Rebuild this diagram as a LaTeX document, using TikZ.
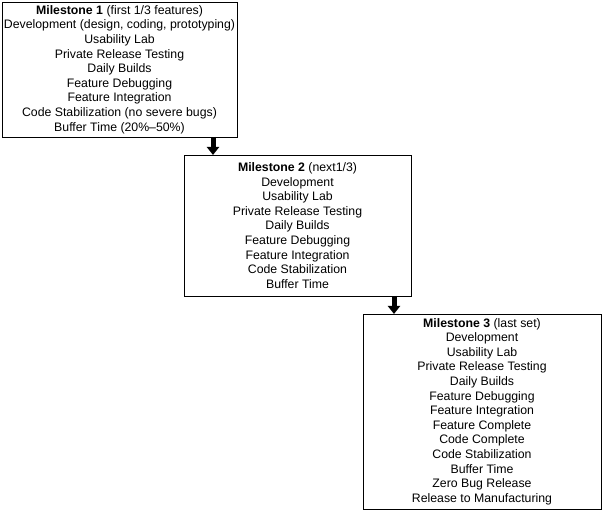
\documentclass[tikz,border=0pt]{standalone}
\usepackage{fontspec}
\setmainfont{Liberation Sans}
\usetikzlibrary{arrows.meta, positioning}

\begin{document}
\begin{tikzpicture}[
  x=1pt, y=1pt,
  box/.style={draw, line width=0.8pt, align=center, inner sep=0pt, outer sep=0pt,
    font=\fontsize{12.3}{14.6}\selectfont},
  stage/.style={-{Triangle[width=12pt, length=8pt]}, line width=5pt}
]
  \useasboundingbox (0,0) rectangle (603,511);

  \node[box, minimum width=235pt, minimum height=135pt, anchor=north west] (ms1) at (2,509)
    {\textbf{Milestone 1} (first 1/3 features)\\Development (design, coding, prototyping)\\Usability Lab\\Private Release Testing\\Daily Builds\\Feature Debugging\\Feature Integration\\Code Stabilization (no severe bugs)\\Buffer Time (20\%--50\%)};
  \node[box, minimum width=227pt, minimum height=141pt, below right=18pt and -53pt of ms1.south east] (ms2)
    {\textbf{Milestone 2} (next1/3)\\Development\\Usability Lab\\Private Release Testing\\Daily Builds\\Feature Debugging\\Feature Integration\\Code Stabilization\\Buffer Time};
  \node[box, minimum width=238pt, minimum height=195pt, below right=18pt and -48pt of ms2.south east] (ms3)
    {\textbf{Milestone 3} (last set)\\Development\\Usability Lab\\Private Release Testing\\Daily Builds\\Feature Debugging\\Feature Integration\\Feature Complete\\Code Complete\\Code Stabilization\\Buffer Time\\Zero Bug Release\\Release to Manufacturing};

  \draw[stage] ([xshift=29pt]ms2.north west |- ms1.south) -- ([xshift=29pt]ms2.north west);
  \draw[stage] ([xshift=31pt]ms3.north west |- ms2.south) -- ([xshift=31pt]ms3.north west);
\end{tikzpicture}
\end{document}
